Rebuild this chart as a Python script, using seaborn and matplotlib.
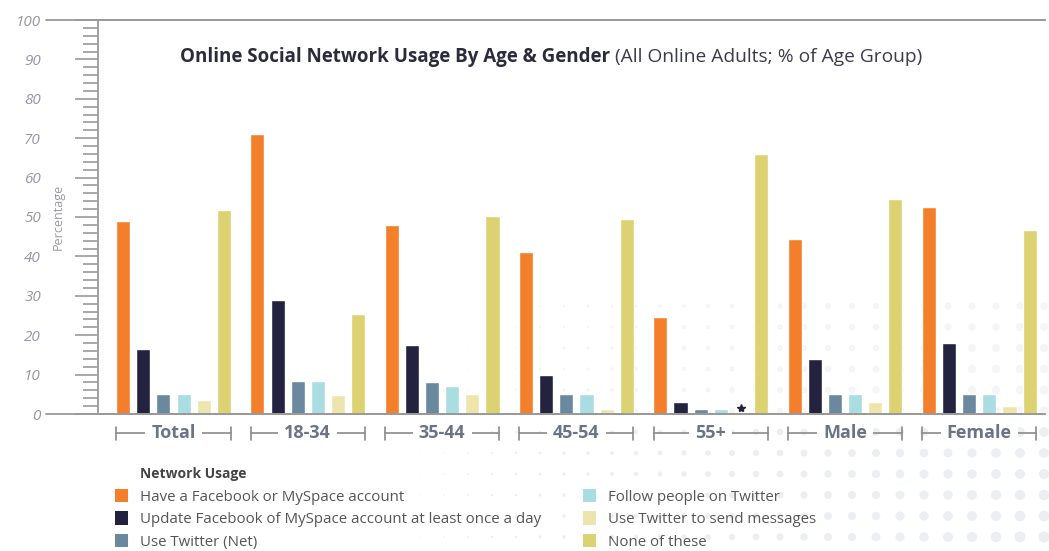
import numpy as np
import pandas as pd
import matplotlib
matplotlib.use("Agg")
import matplotlib.pyplot as plt
import seaborn as sns
from matplotlib.patches import Patch
from matplotlib.lines import Line2D
import matplotlib.transforms as mtransforms

# ---------------- data ----------------
groups = ["Total", "18-34", "35-44", "45-54", "55+", "Male", "Female"]
series = ["Have a Facebook or MySpace account",
          "Update Facebook of MySpace account at least once a day",
          "Use Twitter (Net)",
          "Follow people on Twitter",
          "Use Twitter to send messages",
          "None of these"]
have_account = [49, 71, 48, 41, 24.5, 44.5, 52.5]
update_daily = [16.5, 29, 17.5, 10, 3, 14, 18]
twitter_net = [5, 8.5, 8, 5, 1.2, 5, 5]
follow_twitter = [5, 8.5, 7, 5, 1.2, 5, 5]
send_messages = [3.5, 4.8, 5, 1.2, np.nan, 3, 2]
none_of_these = [51.8, 25.3, 50.3, 49.4, 66, 54.5, 46.7]
colors = ["#F47F2A", "#23223F", "#6A889E", "#A9DDE2", "#EDE5AC", "#DDD272"]
yticks = list(range(0, 101, 10))

values = [have_account, update_daily, twitter_net, follow_twitter, send_messages, none_of_these]
df = pd.DataFrame([(g, s, v) for s, vals in zip(series, values) for g, v in zip(groups, vals)],
                  columns=["group", "usage", "pct"])

sns.set_theme(style="white")
plt.rcParams['font.family'] = ['Open Sans', 'DejaVu Sans']

W, H = 1049, 551
fig = plt.figure(figsize=(W / 100, H / 100), dpi=100)
fig.patch.set_facecolor("white")


def fx(px):
    return px / W


def fy(py):
    return 1 - py / H


# ------------- decorative halftone background -------------
bg = fig.add_axes([0, 0, 1, 1], zorder=-5)
bg.set_xlim(0, W)
bg.set_ylim(H, 0)
bg.axis('off')
gx, gy = np.meshgrid(np.arange(396, W + 12, 24), np.arange(306, H + 12, 21))
dist = np.hypot(gx - 1110, gy - 620)
diam = 13 * np.clip(1 - dist / 760, 0, 1)
inside = gy < 414
bg.scatter(gx[~inside], gy[~inside], s=(diam[~inside] / 1.389) ** 2, color="#eceff2", linewidths=0)
bg.scatter(gx[inside], gy[inside], s=(diam[inside] / 1.389) ** 2, color="#f3f5f6", linewidths=0)

# ------------- main axes -------------
ax = fig.add_axes([fx(98), fy(414), fx(1045) - fx(98), fy(20) - fy(414)])
ax.set_facecolor('none')
sns.barplot(data=df, x="group", y="pct", hue="usage", hue_order=series, order=groups,
            palette=colors, width=0.9, gap=0.3, saturation=1, errorbar=None,
            legend=False, ax=ax)

ax.set_xlim(-0.562, 6.489)
ax.set_ylim(0, 100)
ax.set_xlabel("")
ax.set_ylabel("")
ax.set_yticks(yticks)
ax.set_yticks(np.arange(0, 101, 2), minor=True)
ax.tick_params(axis='y', which='major', length=16.6, width=1.2, color='#9a9a9a',
               pad=24.5, labelsize=11, labelcolor='#9696a4', left=True)
ax.tick_params(axis='y', which='minor', length=10.8, width=1.2, color='#9a9a9a', left=True)
ax.tick_params(axis='x', length=0, labelbottom=False)
for lab in ax.get_yticklabels():
    lab.set_style('italic')

for side in ['left', 'bottom', 'top']:
    ax.spines[side].set_visible(True)
    ax.spines[side].set_color('#9a9a9a')
    ax.spines[side].set_linewidth(1.3)
ax.spines['right'].set_visible(False)

# extended lines at 0 and 100
x0 = (46 - 98) / 947
for yv in (0, 1):
    ax.add_line(Line2D([x0, 1], [yv, yv], transform=ax.transAxes, color='#9a9a9a',
                       lw=1.3, clip_on=False))

ax.text(-0.042, 0.5, "Percentage", transform=ax.transAxes, rotation=90, ha='center',
        va='center', fontsize=9, color='#9a9aa0')

# missing value marker (55+, Use Twitter to send messages)
n = len(series)
bw = 0.9 / n
star_x = groups.index("55+") + (-0.45 + bw * (series.index("Use Twitter to send messages") + 0.5))
ax.plot([star_x], [1.6], marker='*', markersize=6, color='#23223F', clip_on=False)

# group brackets
trans = mtransforms.blended_transform_factory(ax.transData, ax.transAxes)
yb = -19 / 394
th = 6.5 / 394
half = 0.425
for i, g in enumerate(groups):
    ax.add_line(Line2D([i - half, i + half], [yb, yb], transform=trans, color='#8a8a8a',
                       lw=1.2, clip_on=False))
    for xe in (i - half, i + half):
        ax.add_line(Line2D([xe, xe], [yb - th, yb + th], transform=trans, color='#8a8a8a',
                           lw=1.2, clip_on=False))
    ax.text(i, yb, g, transform=trans, ha='center', va='center', fontsize=13,
            fontweight='bold', color='#6b7486',
            bbox=dict(boxstyle='square,pad=0.35', fc='white', ec='none'))

# title
t1 = fig.text(fx(180), fy(57), "Online Social Network Usage By Age & Gender", fontsize=13.5,
              fontweight='bold', color='#2b2b3b', va='center', ha='left')
fig.canvas.draw()
r = fig.canvas.get_renderer()
bb = t1.get_window_extent(renderer=r)
fig.text((bb.x1 + 5) / W, fy(57), "(All Online Adults; % of Age Group)", fontsize=13.8,
         color='#3b3b4b', va='center', ha='left')

# legend
fig.text(fx(140), fy(474), "Network Usage", fontsize=10, fontweight='bold', color='#444444',
         va='center', ha='left')
handles = [Patch(facecolor=c, edgecolor='none', label=s) for c, s in zip(colors, series)]
fig.legend(handles=handles, loc='upper left', bbox_to_anchor=(fx(115), fy(489)), ncol=2,
           frameon=False, fontsize=10.8, handlelength=0.85, handleheight=1.0,
           handletextpad=0.8, columnspacing=2.8, labelspacing=0.44, labelcolor='#555555',
           borderaxespad=0, borderpad=0)

fig.savefig("out.png", dpi=100)
